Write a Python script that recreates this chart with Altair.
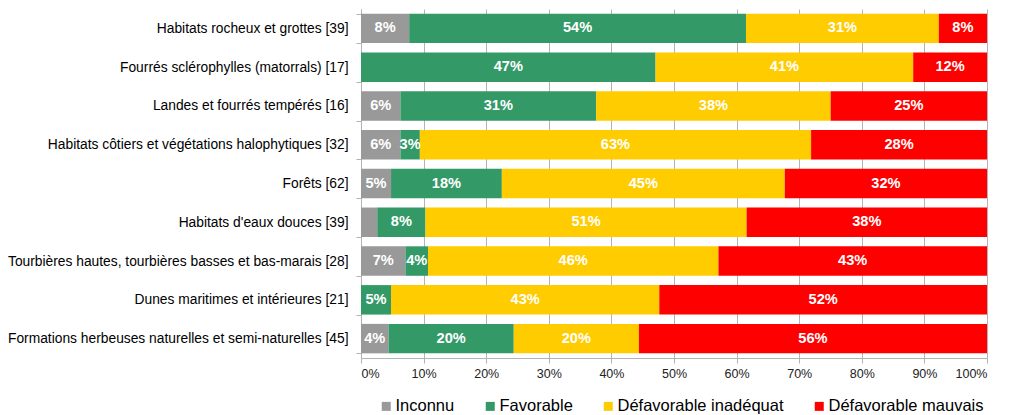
import altair as alt
import pandas as pd

categories = [
    "Habitats rocheux et grottes [39]",
    "Fourrés sclérophylles (matorrals) [17]",
    "Landes et fourrés tempérés [16]",
    "Habitats côtiers et végétations halophytiques [32]",
    "Forêts [62]",
    "Habitats d'eaux douces [39]",
    "Tourbières hautes, tourbières basses et bas-marais [28]",
    "Dunes maritimes et intérieures [21]",
    "Formations herbeuses naturelles et semi-naturelles [45]",
]
statuses = ["Inconnu", "Favorable", "Défavorable inadéquat", "Défavorable mauvais"]
colors = ["#999999", "#339966", "#FFCC00", "#FF0000"]

inconnu = [7.7, 0, 6.3, 6.3, 4.8, 2.6, 7.1, 0, 4.4]
favorable = [53.8, 47.1, 31.3, 3.1, 17.7, 7.7, 3.6, 4.8, 20.0]
inadequat = [30.8, 41.2, 37.5, 62.5, 45.2, 51.3, 46.4, 42.9, 20.0]
mauvais = [7.7, 11.8, 25.0, 28.1, 32.3, 38.4, 42.9, 52.4, 55.6]

series = [inconnu, favorable, inadequat, mauvais]
rows = []
for i, c in enumerate(categories):
    for k, s in enumerate(statuses):
        rows.append({"cat": c, "status": s, "ord": k, "v": series[k][i]})
df = pd.DataFrame(rows)

FONT = "Liberation Sans"

base = (
    alt.Chart(df)
    .transform_joinaggregate(total="sum(v)", groupby=["cat"])
    .transform_calculate(p="100*datum.v/datum.total")
    .transform_stack(
        stack="p",
        groupby=["cat"],
        as_=["x0", "x1"],
        sort=[alt.SortField("ord", order="ascending")],
    )
    .transform_calculate(
        mid="(datum.x0+datum.x1)/2",
        label="datum.v >= 3 ? round(datum.v) + '%' : ''",
    )
)

y_enc = alt.Y(
    "cat:N",
    sort=categories,
    title=None,
    scale=alt.Scale(paddingInner=0.24, paddingOuter=0.12),
    axis=alt.Axis(
        tickBand="extent",
        labelFontSize=13.8,
        labelFont=FONT,
        labelColor="#000000",
        labelPadding=8,
        tickSize=5,
        tickColor="#b3b3b3",
        domainColor="#b3b3b3",
        labelLimit=400,
        grid=False,
    ),
)

bars = base.mark_bar().encode(
    y=y_enc,
    x=alt.X(
        "x0:Q",
        scale=alt.Scale(domain=[0, 100], nice=False),
        axis=alt.Axis(
            values=list(range(0, 101, 10)),
            labelExpr="datum.value + '%'",
            title=None,
            grid=True,
            gridColor="#b3b3b3",
            domainColor="#b3b3b3",
            tickColor="#b3b3b3",
            tickSize=5,
            labelFontSize=12.5,
            labelFont=FONT,
            labelColor="#222222",
            labelPadding=4,
        ),
    ),
    x2="x1:Q",
    color=alt.Color(
        "status:N",
        scale=alt.Scale(domain=statuses, range=colors),
        legend=alt.Legend(
            title=None,
            orient="none",
            legendX=17,
            legendY=389,
            direction="horizontal",
            symbolType="square",
            symbolSize=81,
            symbolStrokeWidth=0,
            labelFontSize=16.5,
            labelFont=FONT,
            labelColor="#000000",
            labelOffset=1,
            labelLimit=400,
            columnPadding=27,
        ),
    ),
)

texts = base.mark_text(
    color="white", fontWeight="bold", fontSize=14.6, font=FONT, baseline="middle", align="center"
).encode(
    y=alt.Y("cat:N", sort=categories),
    x=alt.X("mid:Q"),
    text="label:N",
)

chart = (
    alt.layer(bars, texts)
    .properties(
        width=626,
        height=349,
        autosize=alt.AutoSizeParams(type="none"),
        padding={"left": 353, "top": 1, "right": 10, "bottom": 60},
    )
    .configure_view(stroke=None)
)

chart.save("out.html", embed_options={"renderer": "svg", "actions": False})
